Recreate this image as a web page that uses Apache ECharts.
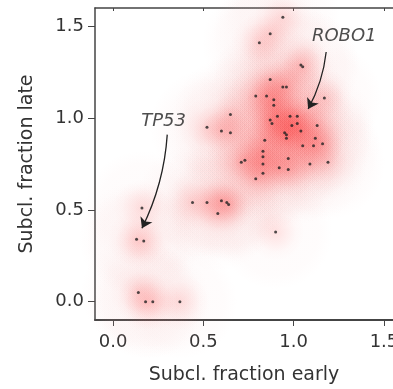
<!DOCTYPE html>
<html>
<head>
<meta charset="utf-8">
<script src="https://cdn.jsdelivr.net/npm/echarts@6/dist/echarts.min.js"></script>
<style>html,body{margin:0;padding:0;background:#fff;}#c{width:393px;height:389px;}</style>
</head>
<body>
<div id="c"></div>
<script>
// Subclonal fraction early (x) vs late (y) per gene
const xEarly = [0.94,0.87,0.81,1.04,1.05,0.87,0.94,0.96,0.79,0.85,0.89,0.89,1.17,0.65,0.52,0.60,0.65,
  0.87,0.88,0.91,0.98,1.02,1.02,1.13,0.95,0.96,0.96,1.04,0.84,1.12,1.05,1.11,1.16,0.83,0.83,0.73,0.71,
  0.97,0.83,0.92,0.97,1.09,1.19,0.83,0.79,0.99,0.44,0.52,0.60,0.63,0.64,0.58,0.90,0.16,0.13,0.17,0.14,
  0.18,0.22,0.37];
const yLate = [1.55,1.46,1.41,1.29,1.28,1.21,1.17,1.17,1.12,1.12,1.10,1.07,1.11,1.02,0.95,0.93,0.92,
  0.99,0.97,1.01,1.01,1.01,0.97,0.96,0.92,0.91,0.89,0.93,0.88,0.89,0.85,0.85,0.86,0.82,0.79,0.77,0.76,
  0.78,0.75,0.73,0.72,0.75,0.76,0.70,0.67,0.96,0.54,0.54,0.55,0.54,0.53,0.48,0.38,0.51,0.34,0.33,0.05,
  0.00,0.00,0.00];
const xTicks = [0, 0.5, 1.0, 1.5];
const yTicks = [0, 0.5, 1.0, 1.5];
const annotGenes = ['TP53', 'ROBO1'];
const annotTextX = [0.28, 1.28];
const annotTextY = [0.985, 1.445];
const arrowFromX = [0.30, 1.18];
const arrowFromY = [0.91, 1.36];
const arrowToX = [0.16, 1.08];
const arrowToY = [0.40, 1.05];

const pts = xEarly.map((x, i) => [x, yLate[i]]);
const FONT = 'DejaVu Sans';

const chart = echarts.init(document.getElementById('c'), null, {renderer: 'canvas'});
const pale = {type: 'radial', x: 0.5, y: 0.5, r: 0.5, colorStops: [
  {offset: 0, color: 'rgba(240,165,165,0.05)'},
  {offset: 0.75, color: 'rgba(240,165,165,0.045)'},
  {offset: 1, color: 'rgba(240,165,165,0)'}]};
const hot = {type: 'radial', x: 0.5, y: 0.5, r: 0.5, colorStops: [
  {offset: 0, color: 'rgba(255,15,15,0.14)'},
  {offset: 0.35, color: 'rgba(255,15,15,0.08)'},
  {offset: 0.7, color: 'rgba(255,15,15,0.02)'},
  {offset: 1, color: 'rgba(255,15,15,0)'}]};

chart.setOption({
  animation: false,
  backgroundColor: '#fff',
  grid: {left: 95, top: 8, bottom: 69, right: 0, containLabel: false, outerBoundsMode: 'none'},
  xAxis: [{
    type: 'value', min: -0.1, max: 1.55, position: 'bottom',
    axisLine: {show: true, onZero: false, lineStyle: {color: '#444', width: 2}},
    axisTick: {show: true, customValues: xTicks, length: 6, lineStyle: {color: '#444', width: 1}},
    axisLabel: {customValues: xTicks, formatter: v => v.toFixed(1), fontSize: 18, fontFamily: FONT, color: '#333', margin: 13},
    splitLine: {show: false},
    name: 'Subcl. fraction early', nameLocation: 'middle', nameGap: 46,
    nameTextStyle: {fontSize: 19, fontFamily: FONT, color: '#333'}
  }, {
    type: 'value', min: -0.1, max: 1.55, position: 'top',
    axisLine: {show: true, onZero: false, lineStyle: {color: '#444', width: 1.5}},
    axisTick: {show: true, inside: true, customValues: xTicks, length: 3, lineStyle: {color: '#444'}},
    axisLabel: {show: false}, splitLine: {show: false}
  }],
  yAxis: [{
    type: 'value', min: -0.1, max: 1.6, position: 'left',
    axisLine: {show: true, onZero: false, lineStyle: {color: '#444', width: 1.5}},
    axisTick: {show: true, customValues: yTicks, length: 7, lineStyle: {color: '#444'}},
    axisLabel: {customValues: yTicks, formatter: v => v.toFixed(1), fontSize: 18, fontFamily: FONT, color: '#333', margin: 11},
    splitLine: {show: false},
    name: 'Subcl. fraction late', nameLocation: 'middle', nameGap: 58,
    nameTextStyle: {fontSize: 19, fontFamily: FONT, color: '#333'}
  }],
  series: [{
    type: 'scatter', silent: true, data: pts, symbolSize: 115,
    itemStyle: {color: pale}, z: 1
  }, {
    type: 'scatter', silent: true, data: pts, symbolSize: 58,
    itemStyle: {color: hot}, z: 3
  }, {
    type: 'scatter', silent: true, data: pts, symbolSize: 3,
    itemStyle: {color: '#222'}, z: 5
  }, {
    type: 'lines', coordinateSystem: 'cartesian2d', silent: true, z: 6,
    symbol: ['none', 'arrow'], symbolSize: 10,
    lineStyle: {color: '#222', width: 1.3, curveness: 0.1, opacity: 1},
    data: annotGenes.map((g, i) => ({coords: [[arrowFromX[i], arrowFromY[i]], [arrowToX[i], arrowToY[i]]]}))
  }, {
    type: 'scatter', silent: true, symbolSize: 1, z: 7,
    data: annotGenes.map((g, i) => [annotTextX[i], annotTextY[i], g]),
    itemStyle: {color: 'rgba(0,0,0,0)'},
    label: {show: true, position: 'inside', formatter: p => p.data[2], fontSize: 18, fontStyle: 'italic',
      fontFamily: FONT, color: '#222'}
  }]
});
</script>
</body>
</html>
